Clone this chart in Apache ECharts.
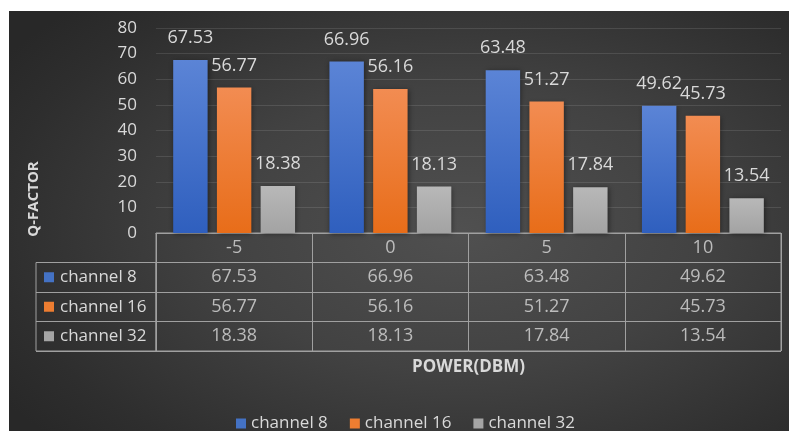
<!DOCTYPE html>
<html>
<head>
<meta charset="utf-8">
<script src="https://cdn.jsdelivr.net/npm/echarts@6/dist/echarts.min.js"></script>
<style>
html,body{margin:0;padding:0;background:#fff;}
#bg{position:absolute;left:9px;top:11px;width:780px;height:420px;
background:radial-gradient(ellipse 70% 75% at 58% 52%, #505050 0%, #424242 45%, #2e2e2e 85%, #282828 100%);}
#c{position:absolute;left:0;top:0;width:789px;height:431px;}
</style>
</head>
<body>
<div id="bg"></div>
<div id="c"></div>
<script>
const categories = ['-5', '0', '5', '10'];
const seriesNames = ['channel 8', 'channel 16', 'channel 32'];
const channel8 = [67.53, 66.96, 63.48, 49.62];
const channel16 = [56.77, 56.16, 51.27, 45.73];
const channel32 = [18.38, 18.13, 17.84, 13.54];
const yTicks = {min: 0, max: 80, interval: 10};

const values = [channel8, channel16, channel32];
const FONT = 'Open Sans';
const txt = '#d9d9d9';
const solid = ['#4472c4', '#ed7d31', '#a5a5a5'];
const grads = [
  ['#5b84d6', '#2f5fbe'],
  ['#f28c52', '#e86d19'],
  ['#b8b8b8', '#a3a3a3']
];
function grad(i){
  return new echarts.graphic.LinearGradient(0,0,0,1,[{offset:0,color:grads[i][0]},{offset:1,color:grads[i][1]}]);
}

const barSeries = values.map((arr, i) => ({
  name: seriesNames[i],
  type: 'bar',
  xAxisIndex: 0, yAxisIndex: 0,
  data: arr,
  barCategoryGap: '22%',
  barGap: '27%',
  itemStyle: {color: grad(i), shadowBlur: 5, shadowColor: 'rgba(0,0,0,0.45)', shadowOffsetX: 1, shadowOffsetY: 1},
  label: {show: true, position: 'top', distance: 13, color: txt, fontSize: 18, fontFamily: FONT},
  emphasis: {disabled: true}
}));

const rows = ['header'].concat(seriesNames);
const cellData = [];
categories.forEach((c, ci) => {
  cellData.push({value: [ci, 'header', c]});
  values.forEach((arr, si) => cellData.push({value: [ci, seriesNames[si], String(arr[ci])]}));
});

const rich = {t: {color: txt, fontSize: 17, fontFamily: FONT, padding: [0,0,0,6]}};
seriesNames.forEach((n, i) => { rich['s' + i] = {width: 10, height: 10, backgroundColor: solid[i]}; });

const option = {
  animation: false,
  textStyle: {fontFamily: FONT},
  grid: [
    {left: 156, top: 28, width: 625, height: 205},
    {left: 156, top: 233, width: 625, height: 118, show: true, borderColor: '#a0a0a0', borderWidth: 1, backgroundColor: 'transparent'},
    {left: 36, top: 262.5, width: 120, height: 88.5, show: true, borderColor: '#a0a0a0', borderWidth: 1, backgroundColor: 'transparent'}
  ],
  xAxis: [
    {type: 'category', gridIndex: 0, data: categories, axisLine: {show: true, lineStyle: {color: '#a0a0a0', width: 1}}, axisTick: {show: false}, axisLabel: {show: false}},
    {type: 'category', gridIndex: 1, data: categories, position: 'bottom',
      axisLine: {show: false}, axisTick: {show: false}, axisLabel: {show: false},
      splitLine: {show: true, interval: 0, lineStyle: {color: '#a0a0a0', width: 1}},
      name: 'POWER(DBM)', nameLocation: 'middle', nameGap: 8,
      nameTextStyle: {color: txt, fontSize: 17, fontWeight: 'bold', fontFamily: FONT}},
    {type: 'category', gridIndex: 2, data: ['row'], show: false}
  ],
  yAxis: [
    {type: 'value', gridIndex: 0, min: yTicks.min, max: yTicks.max, interval: yTicks.interval,
      axisLine: {show: false}, axisTick: {show: false},
      axisLabel: {color: txt, fontSize: 17, fontFamily: FONT, margin: 19},
      splitLine: {lineStyle: {color: 'rgba(255,255,255,0.11)', width: 1}}},
    {type: 'category', gridIndex: 1, data: rows, inverse: true,
      axisLine: {show: false}, axisTick: {show: false}, axisLabel: {show: false},
      splitLine: {show: true, interval: 0, lineStyle: {color: '#a0a0a0', width: 1}}},
    {type: 'category', gridIndex: 2, data: seriesNames, inverse: true,
      axisLine: {show: false}, axisTick: {show: false},
      axisLabel: {inside: true, margin: 8, formatter: (v, i) => '{s' + i + '|}{t|' + v + '}', rich: rich},
      splitLine: {show: true, interval: 0, lineStyle: {color: '#a0a0a0', width: 1}}}
  ],
  legend: {
    data: seriesNames.map((n, i) => ({name: n, itemStyle: {color: solid[i]}})),
    left: 231, top: 410, icon: 'rect', itemWidth: 10, itemHeight: 10, itemGap: 22,
    textStyle: {color: txt, fontSize: 17, fontFamily: FONT},
    selectedMode: false
  },
  graphic: [{
    type: 'text', x: 34, y: 199, rotation: Math.PI / 2,
    style: {text: 'Q-FACTOR', fill: txt, font: 'bold 15px "Open Sans"', align: 'center', verticalAlign: 'middle'}
  }],
  series: barSeries.concat([{
    type: 'scatter', xAxisIndex: 1, yAxisIndex: 1, symbolSize: 0, data: cellData,
    label: {show: true, position: 'inside', formatter: p => p.value[2], color: txt, fontSize: 18, fontFamily: FONT},
    emphasis: {disabled: true}, silent: true
  }])
};
const chart = echarts.init(document.getElementById('c'), null, {renderer: 'canvas'});
chart.setOption(option);
</script>
</body>
</html>
